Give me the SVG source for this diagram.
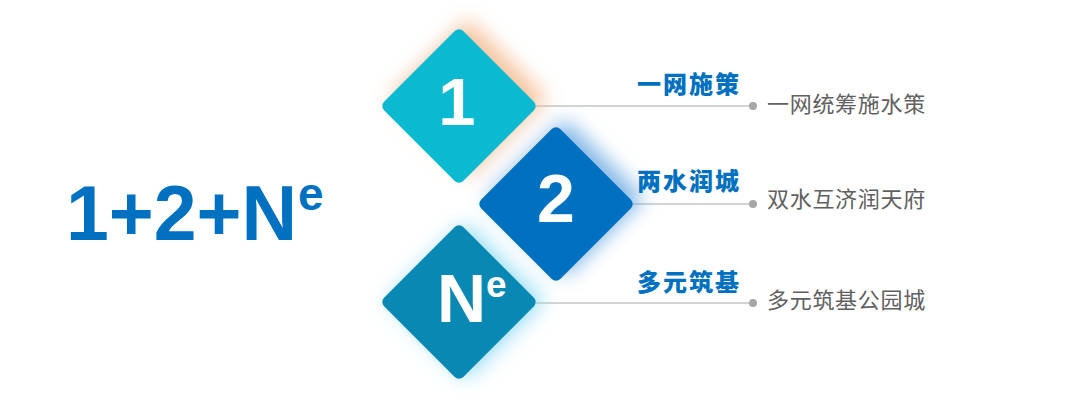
<svg xmlns="http://www.w3.org/2000/svg" width="1080" height="408" viewBox="0 0 1080 408">
<style>
.num{font-family:"Liberation Sans",Arial,sans-serif;font-weight:bold;fill:#ffffff}
.title{font-family:"Noto Sans CJK SC",sans-serif;font-weight:900;font-size:24px;fill:#0070c0;letter-spacing:2px}
.desc{font-family:"Noto Sans CJK SC",sans-serif;font-size:22px;fill:#606060;letter-spacing:0.7px}
.line{stroke:#c4c4c4;stroke-width:1.3;fill:none}
.dot{fill:#a6a6a6}
</style>
<defs>
<filter id="glow" x="-50%" y="-50%" width="200%" height="200%">
<feGaussianBlur stdDeviation="10"/>
</filter>
<rect id="dia" x="-56" y="-56" width="112" height="112" rx="6" ry="6" transform="rotate(45)"/>
</defs>
<rect width="1080" height="408" fill="#ffffff"/>

<g id="title-main">
<text x="66" y="240" font-family="'Liberation Sans',Arial,sans-serif" font-weight="bold" font-size="77" fill="#0070c0">1+2+N</text>
<text x="298" y="210" font-family="'Liberation Sans',Arial,sans-serif" font-weight="bold" font-size="46" fill="#0070c0">e</text>
</g>

<g id="connectors">
<line class="line" x1="536" y1="106" x2="753" y2="106"/>
<line class="line" x1="633" y1="204" x2="753" y2="204"/>
<line class="line" x1="536" y1="303" x2="753" y2="303"/>
<circle class="dot" cx="753" cy="106" r="4"/>
<circle class="dot" cx="753" cy="204" r="4"/>
<circle class="dot" cx="753" cy="303" r="4"/>
</g>

<g id="node-1">
<use href="#dia" transform="translate(468,98)" fill="#f4b98e" opacity="0.85" filter="url(#glow)"/>
<use href="#dia" transform="translate(459,106)" fill="#0bbad0"/>
<text class="num" x="457" y="125" font-size="67" text-anchor="middle">1</text>
</g>

<g id="node-3">
<use href="#dia" transform="translate(466,301)" fill="#8fdcf5" opacity="0.9" filter="url(#glow)"/>
<use href="#dia" transform="translate(459,302)" fill="#0a88b4"/>
<text class="num" x="437" y="322" font-size="68">N<tspan font-size="37" dy="-25">e</tspan></text>
</g>

<g id="node-2">
<use href="#dia" transform="translate(565,198)" fill="#6aa8e2" opacity="0.85" filter="url(#glow)"/>
<use href="#dia" transform="translate(556,204)" fill="#0070c0"/>
<text class="num" x="556" y="222" font-size="68" text-anchor="middle">2</text>
</g>

<g id="label-1">
<text class="title" x="637" y="93">一网施策</text>
<text class="desc" x="767" y="112">一网统筹施水策</text>
</g>
<g id="label-2">
<text class="title" x="637" y="190">两水润城</text>
<text class="desc" x="767" y="207">双水互济润天府</text>
</g>
<g id="label-3">
<text class="title" x="637" y="291">多元筑基</text>
<text class="desc" x="767" y="308">多元筑基公园城</text>
</g>
</svg>
